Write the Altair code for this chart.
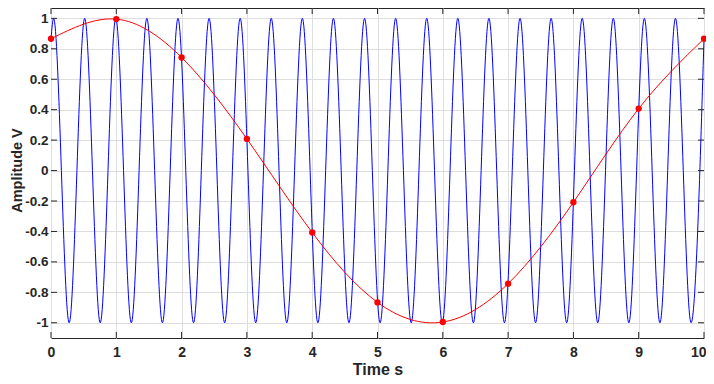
import altair as alt
import pandas as pd

# Axis ticks
time_ticks = [0, 1, 2, 3, 4, 5, 6, 7, 8, 9, 10]
amp_ticks = [-1, -0.8, -0.6, -0.4, -0.2, 0, 0.2, 0.4, 0.6, 0.8, 1]

# Red samples (one per second)
sample_t = [0, 1, 2, 3, 4, 5, 6, 7, 8, 9, 10]
sample_v = [0.866, 0.995, 0.743, 0.208, -0.407, -0.866, -0.995, -0.743, -0.208, 0.407, 0.866]

# Blue fast signal: start, peaks / troughs, end
fast_t = [0.0, 0.040, 0.278, 0.516, 0.754, 0.992, 1.230, 1.468, 1.706, 1.945,
          2.183, 2.421, 2.659, 2.897, 3.135, 3.373, 3.611, 3.849, 4.087, 4.325,
          4.563, 4.802, 5.040, 5.278, 5.516, 5.754, 5.992, 6.230, 6.468, 6.706,
          6.944, 7.183, 7.421, 7.659, 7.897, 8.135, 8.373, 8.611, 8.849, 9.087,
          9.325, 9.563, 9.802, 10.0]
fast_v = [0.866, 1, -1, 1, -1, 1, -1, 1, -1, 1,
          -1, 1, -1, 1, -1, 1, -1, 1, -1, 1,
          -1, 1, -1, 1, -1, 1, -1, 1, -1, 1,
          -1, 1, -1, 1, -1, 1, -1, 1, -1, 1,
          -1, 1, -1, 0.866]

fast_df = pd.DataFrame({"t": fast_t, "v": fast_v})
sample_df = pd.DataFrame({"t": sample_t, "v": sample_v})
xt_df = pd.DataFrame({"t": time_ticks})
yt_df = pd.DataFrame({"v": amp_ticks})

W, H = 653, 330
FONT = "Liberation Sans"
DARK = "#262626"
GRID = "#dedede"

x_scale = alt.Scale(domain=[0, 10], nice=False, zero=False)
y_scale = alt.Scale(domain=[-1.1, 1.068], nice=False, zero=False)

label_expr = "replace(format(datum.value, '.1~f'), '\u2212', '-')"

x_axis = alt.Axis(values=time_ticks, title="Time s", grid=True, gridColor=GRID,
                  ticks=False, tickSize=0, domain=False, labelFlush=False,
                  labelAlign=alt.ExprRef(expr="datum.value == 10 ? 'right' : 'center'"),
                  labelOffset=alt.ExprRef(expr="datum.value == 10 ? 2 : 0"),
                  labelFont=FONT, labelFontSize=14, labelFontWeight="bold",
                  labelColor=DARK, labelPadding=7,
                  titleFont=FONT, titleFontSize=16, titleFontWeight="bold",
                  titleColor=DARK, titlePadding=2)
y_axis = alt.Axis(values=amp_ticks, title="Amplitude V", grid=True, gridColor=GRID,
                  ticks=False, tickSize=0, domain=False, labelExpr=label_expr,
                  labelFont=FONT, labelFontSize=13.5, labelFontWeight="bold",
                  labelColor=DARK, labelPadding=3,
                  titleFont=FONT, titleFontSize=14.5, titleFontWeight="bold",
                  titleColor=DARK, titleAngle=270, titleX=-26.5, titleY=162,
                  titleAlign="center", titleBaseline="bottom")

X = alt.X("t:Q", scale=x_scale, axis=x_axis)
Y = alt.Y("v:Q", scale=y_scale, axis=y_axis)

fast = alt.Chart(fast_df).mark_line(color="#0000ff", strokeWidth=1, interpolate="monotone").encode(x=X, y=Y)
slow = alt.Chart(sample_df).mark_line(color="#ff0000", strokeWidth=1, interpolate="natural").encode(x=X, y=Y)
dots = alt.Chart(sample_df).mark_circle(color="#ff0000", size=40, opacity=1).encode(x=X, y=Y)

tick_len = 6
xt_bottom = alt.Chart(xt_df).mark_rule(color=DARK, strokeWidth=1).encode(
    x=X, y=alt.value(H), y2=alt.value(H - tick_len))
xt_top = alt.Chart(xt_df).mark_rule(color=DARK, strokeWidth=1).encode(
    x=X, y=alt.value(0), y2=alt.value(tick_len))
yt_left = alt.Chart(yt_df).mark_rule(color=DARK, strokeWidth=1).encode(
    y=Y, x=alt.value(0), x2=alt.value(tick_len))
yt_right = alt.Chart(yt_df).mark_rule(color=DARK, strokeWidth=1).encode(
    y=Y, x=alt.value(W), x2=alt.value(W - tick_len))

chart = alt.layer(fast, slow, dots, xt_bottom, xt_top, yt_left, yt_right).properties(
    width=W, height=H,
    autosize=alt.AutoSizeParams(type="none"),
    padding={"left": 43, "top": 0, "right": 2, "bottom": 38},
    background="white",
).configure_view(stroke=DARK, strokeWidth=1)

chart.save("out.html", embed_options={"renderer": "svg", "actions": False})
